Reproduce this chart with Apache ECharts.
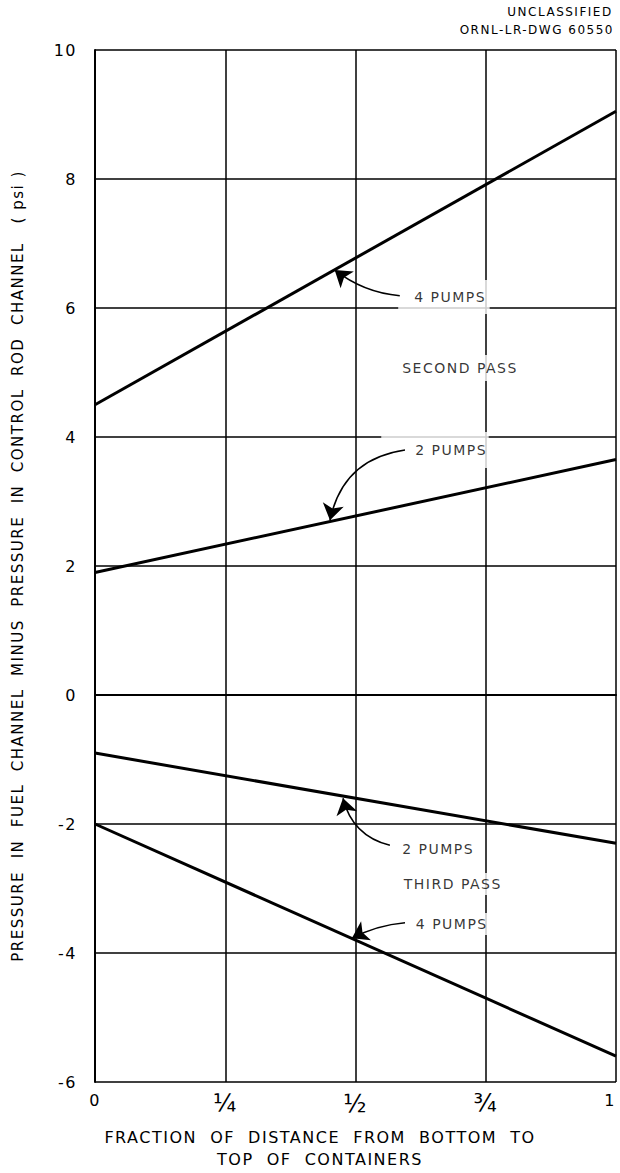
<!DOCTYPE html>
<html>
<head>
<meta charset="utf-8">
<script src="https://cdn.jsdelivr.net/npm/echarts@6/dist/echarts.min.js"></script>
<style>
  html, body { margin: 0; padding: 0; background: #fff; }
  #chart { width: 620px; height: 1173px; }
  /* wide drafting-style lettering */
  #chart text { letter-spacing: 1.5px; }
</style>
</head>
<body>
<div id="chart"></div>
<script>
// Fraction of distance from bottom to top of containers
const positions = [0, 1];
const xTickValues = [0, 0.25, 0.5, 0.75, 1];
const xTickLabels = ['0', '¼', '½', '¾', '1'];

// Pressure difference (psi) at bottom and top
const secondPass4Pumps = [4.5, 9.05];
const secondPass2Pumps = [1.9, 3.65];
const thirdPass2Pumps = [-0.9, -2.3];
const thirdPass4Pumps = [-2.0, -5.6];

// Callout labels: [x, y, text]
const callouts = [
  [0.605, 6.17, '4 PUMPS'],
  [0.582, 5.07, 'SECOND PASS'],
  [0.607, 3.80, '2 PUMPS'],
  [0.582, -2.39, '2 PUMPS'],
  [0.585, -2.93, 'THIRD PASS'],
  [0.608, -3.55, '4 PUMPS']
];
// Leader arrows: [tail, head, curveness]
const leaders = [
  [[0.585, 6.19], [0.46, 6.59], 0.15],
  [[0.595, 3.80], [0.451, 2.71], -0.35],
  [[0.566, -2.33], [0.476, -1.60], 0.3],
  [[0.595, -3.53], [0.493, -3.77], -0.1]
];

const FONT = 'DejaVu Sans';
const pairs = v => positions.map((x, i) => [x, v[i]]);
const lineSeries = v => ({
  type: 'line', data: pairs(v), symbol: 'none', silent: true,
  lineStyle: { color: '#000', width: 3 }, z: 3
});

// White label boxes [top, right, bottom, left] break the grid behind the lettering
const calloutPadding = [
  [6, 14, 14, 16],
  [6, 10, 6, 6],
  [16, 12, 6, 34],
  [4, 10, 4, 4],
  [4, 10, 4, 4],
  [4, 10, 4, 4]
];

const chart = echarts.init(document.getElementById('chart'), null, { renderer: 'svg' });
chart.setOption({
  backgroundColor: '#fff',
  animation: false,
  grid: { left: 95, right: 4, top: 50, bottom: 91, containLabel: false, outerBoundsMode: 'none' },
  xAxis: {
    type: 'value', min: 0, max: 1, interval: 0.25,
    axisLine: { show: true, lineStyle: { color: '#000', width: 2 } },
    axisTick: { show: false },
    splitLine: { show: true, lineStyle: { color: '#000', width: 1.5 } },
    axisLabel: {
      color: '#000', fontFamily: FONT, fontSize: 16, margin: 10,
      alignMaxLabel: 'right',
      formatter: v => {
        const i = xTickValues.findIndex(t => Math.abs(t - v) < 1e-6);
        return (i > 0 && i < xTickLabels.length - 1) ? '{f|' + xTickLabels[i] + '}' : xTickLabels[i];
      },
      rich: { f: { fontFamily: FONT, fontSize: 24, color: '#000' } }
    }
  },
  yAxis: {
    type: 'value', min: -6, max: 10, interval: 2,
    axisLine: { show: true, lineStyle: { color: '#000', width: 2 } },
    axisTick: { show: false },
    splitLine: { show: true, lineStyle: { color: '#000', width: 1.5 } },
    axisLabel: { color: '#000', fontFamily: FONT, fontSize: 16, margin: 18 },
    name: 'PRESSURE  IN  FUEL  CHANNEL  MINUS  PRESSURE  IN  CONTROL  ROD  CHANNEL   ( psi )',
    nameLocation: 'middle', nameGap: 70, nameRotate: 90,
    nameTextStyle: { color: '#000', fontFamily: FONT, fontSize: 15 }
  },
  series: [
    lineSeries(secondPass4Pumps),
    lineSeries(secondPass2Pumps),
    lineSeries(thirdPass2Pumps),
    lineSeries(thirdPass4Pumps),
    {
      type: 'scatter', symbolSize: 0, silent: true, z: 4,
      data: callouts.map((c, i) => ({
        value: [c[0], c[1]], name: c[2],
        label: {
          padding: calloutPadding[i],
          offset: [-(calloutPadding[i][3] - 4), 0]
        }
      })),
      label: {
        show: true, position: 'right', distance: 0,
        formatter: p => p.name,
        color: '#000', fontFamily: FONT, fontSize: 14,
        backgroundColor: '#fff'
      }
    },
    {
      type: 'lines', coordinateSystem: 'cartesian2d', silent: true, z: 5,
      symbol: ['none', 'arrow'], symbolSize: [6, 16],
      data: leaders.map(l => ({
        coords: [l[0], l[1]],
        lineStyle: { curveness: l[2] }
      })),
      lineStyle: { color: '#000', width: 1.5, opacity: 1 }
    }
  ],
  graphic: [
    {
      type: 'text', x: 560, y: 6,
      style: { text: 'UNCLASSIFIED', fill: '#000', font: '12px "DejaVu Sans"', textAlign: 'center' }
    },
    {
      type: 'text', x: 614, y: 24,
      style: { text: 'ORNL-LR-DWG 60550', fill: '#000', font: '12px "DejaVu Sans"', textAlign: 'right' }
    },
    {
      type: 'text', x: 320, y: 1126,
      style: {
        text: 'FRACTION  OF  DISTANCE  FROM  BOTTOM  TO\nTOP  OF  CONTAINERS',
        fill: '#000', font: '16px "DejaVu Sans"', textAlign: 'center', lineHeight: 22
      }
    }
  ]
});
</script>
</body>
</html>
